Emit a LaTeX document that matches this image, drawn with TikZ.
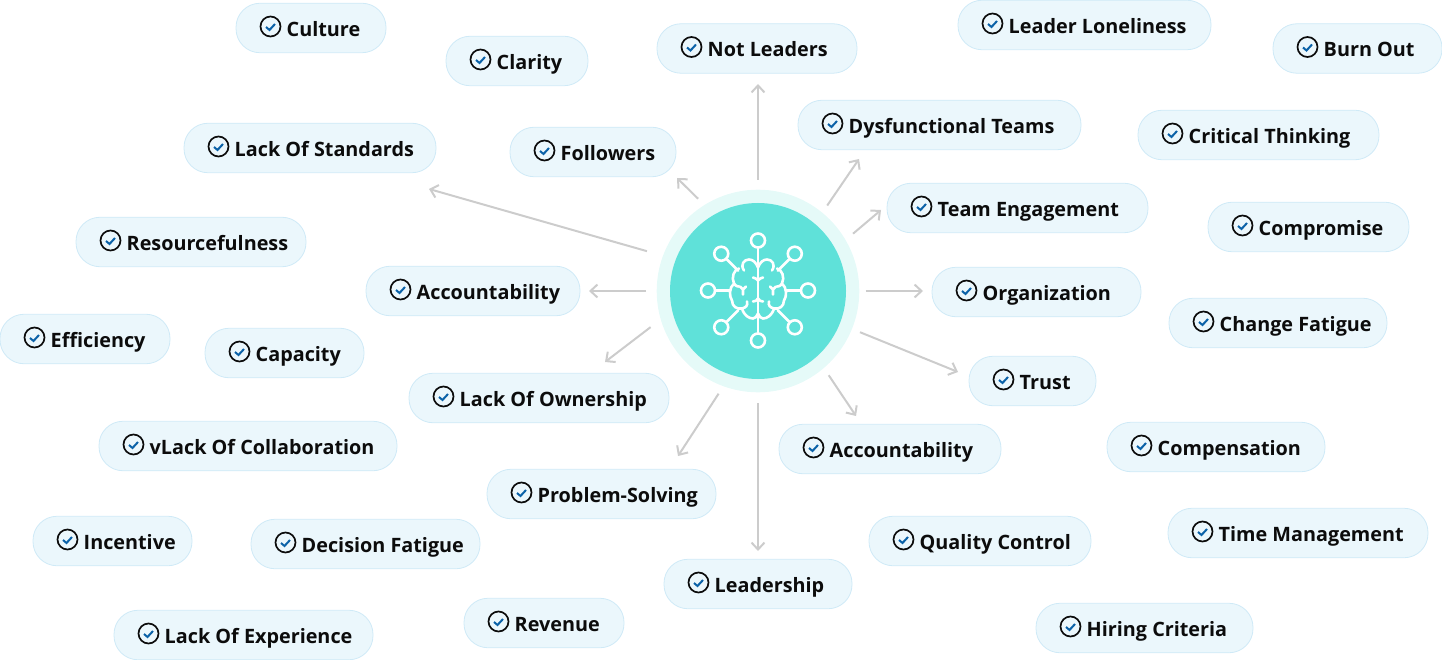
\documentclass[tikz,border=0pt]{standalone}
\usepackage{fontspec}
\setmainfont{Open Sans}
\usepackage{tikz}
\usetikzlibrary{positioning}
\usetikzlibrary{arrows.meta}
\usepackage{xcolor}
\definecolor{pillfill}{HTML}{EBF7FC}
\definecolor{pillline}{HTML}{CFEAF7}
\definecolor{ringfill}{HTML}{E5FAF8}
\definecolor{discfill}{HTML}{5FE1D9}
\definecolor{arrowgray}{HTML}{CCCCCC}
\definecolor{tickblue}{HTML}{0B62A8}
\definecolor{inkblack}{HTML}{0C0C0C}
\tikzset{
	pillbox/.style={rectangle, draw=pillline, fill=pillfill, line width=0.8pt, rounded corners=24pt, minimum height=49.5pt, inner sep=0pt, outer sep=0pt},
	checkmark/.style={circle, draw=inkblack, line width=1.7pt, minimum size=20pt, inner sep=0pt},
	tickline/.style={draw=tickblue, line width=2pt},
	pilltext/.style={anchor=base west, inner sep=0pt, font=\fontsize{19.8pt}{24pt}\selectfont\bfseries, text=inkblack},
	spoke/.style={draw=arrowgray, line width=2pt, -{Straight Barb[length=7pt,width=13pt,line width=2pt]}},
	brainline/.style={draw=white, line width=2.6pt, line cap=round},
	brainnode/.style={circle, draw=white, line width=2.6pt, minimum size=14pt, inner sep=0pt},
}
\newcommand{\brainhalf}{
	\draw[brainline] (0,-23) .. controls (-2,-28) and (-5,-31) .. (-9,-31) .. controls (-14,-31) and (-18,-26) .. (-14,-20);
	\draw[brainline] (-19,-22) .. controls (-24,-21) and (-27,-13) .. (-24,-7) .. controls (-29,-3) and (-29,6) .. (-26,10) .. controls (-26,16) and (-21,19) .. (-16,18) .. controls (-14,25) and (-9,28) .. (-5,28) .. controls (-3,28) and (-1,26) .. (0,23);
	\draw[brainline] (-24,-7) .. controls (-22,-4) and (-20,-4) .. (-19,-4);
	\draw[brainline] (-16,18) .. controls (-12,17) and (-10,15) .. (-11,11);
	\draw[brainline] (-5,-13) .. controls (-3,-12) and (-1,-12) .. (0,-10);
	\draw[brainline] (-5,11) .. controls (-3,11) and (-1,10) .. (0,8);
	\draw[brainline] (-15,4) -- (-15,-1) -- (-18,-4) (-15,-1) -- (-12,-4);
}
\begin{document}
\begin{tikzpicture}[x=1pt,y=-1pt]
	\useasboundingbox (0,0) rectangle (1442,660);
	\foreach \pname/\cx/\cy/\pw/\txt in {
		culture/311/28/150/Culture, clarity/517/61/142/Clarity, notleaders/757/48.5/200/Not Leaders,
		loneliness/1084.5/25/253/Leader Loneliness, burnout/1357.5/48.5/169/Burn Out,
		dysfunctional/939.5/125/283/Dysfunctional Teams, critical/1258.5/135/241/Critical Thinking,
		standards/310/148/252/Lack Of Standards, followers/593/152/166/Followers,
		engagement/1017.5/208/261/Team Engagement, compromise/1308.5/227/201/Compromise,
		resourceful/191/242/230/Resourcefulness, accountleft/473/291/214/Accountability,
		organization/1036.5/292/209/Organization, fatigue/1278/323/218/Change Fatigue,
		efficiency/85/339/170/Efficiency, capacity/284.5/353/159/Capacity,
		trust/1032.5/381/127/Trust, ownership/539/398/260/Lack Of Ownership,
		accountright/890/449/222/Accountability, compensation/1216/447/218/Compensation,
		collaboration/248/446/298/vLack Of Collaboration, problem/601.5/494/229/Problem-Solving,
		incentive/112.5/541/159/Incentive, decision/365.5/544/229/Decision Fatigue,
		quality/980/541/222/Quality Control, timemgmt/1298/533/260/Time Management,
		leadership/758/584/188/Leadership, revenue/544/623/160/Revenue,
		hiring/1144.5/628/217/Hiring Criteria, experience/243.5/635/259/Lack Of Experience}
	{
		\node[pillbox, minimum width=\pw pt] (\pname) at (\cx,\cy) {};
		\node[checkmark] (\pname check) at ([xshift=34.5pt,yshift=1.5pt]\pname.west) {};
		\draw[tickline] ([shift={(-4.5pt,-0.5pt)}]\pname check.center) -- ([shift={(-1pt,-3.5pt)}]\pname check.center) -- ([shift={(4.5pt,2.5pt)}]\pname check.center);
		\node[pilltext] (\pname label) at ([xshift=50.5pt,yshift=-8.3pt]\pname.west) {\txt};
	}

	\node[circle, fill=ringfill, minimum size=202.6pt, inner sep=0pt, outer sep=8.7pt] (hub) at (758,291) {};
	\node[circle, fill=discfill, minimum size=176pt, inner sep=0pt] (disc) at (hub.center) {};

	\foreach \pname/\tipx/\tipy in {
		notleaders/758/84, followers/677/178, standards/429/189, accountleft/589/291,
		ownership/605/362, problem/678/456, leadership/758/551, accountright/856/416,
		trust/958/372, organization/923/291, engagement/881/210, dysfunctional/859/159}
		\coordinate (\pname tip) at (\tipx,\tipy);

	\foreach \ang/\pname/\gap in {
		90/notleaders/1, 123/followers/0, 160/standards/8, 180/accountleft/2,
		198/ownership/3.5, 249/problem/0, 270/leadership/2, 310/accountright/0,
		338/trust/0, 0/organization/-2.3, 31/engagement/1, 51/dysfunctional/0}
		\draw[spoke, shorten <=\gap pt] (hub.\ang) -- (\pname tip);

	\begin{scope}[shift={(758,290.5)}]
		\foreach \ang/\rad in {0/50, 45/52, 90/50, 135/52, 180/50, 225/52, 270/50, 315/52}
			\node[brainnode] (brain\ang) at (\ang:\rad) {};
		\foreach \ang in {0, 45, 135, 180, 225, 315}
			\draw[brainline] (brain\ang) -- (\ang:28);
		\draw[brainline] (brain90) -- (brain270);
		\brainhalf
		\begin{scope}[xscale=-1]
			\brainhalf
		\end{scope}
	\end{scope}
\end{tikzpicture}
\end{document}
